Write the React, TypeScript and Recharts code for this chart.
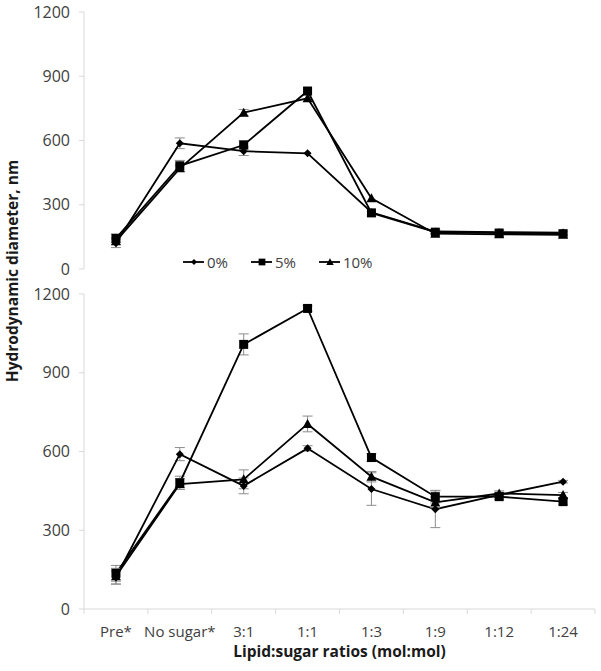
import React from 'react'
import { LineChart, Line, XAxis, YAxis, ErrorBar } from 'recharts'

// x categories (lipid:sugar ratio)
const categories = ['Pre*', 'No sugar*', '3:1', '1:1', '1:3', '1:9', '1:12', '1:24']
const seriesNames = ['0%', '5%', '10%']
const yTicks = [0, 300, 600, 900, 1200]

// top panel
const top0 = [120, 587, 550, 540, 265, 175, 172, 170]
const top5 = [143, 482, 579, 831, 262, 172, 168, 165]
const top10 = [130, 470, 730, 797, 330, 165, 162, 160]
const top0Err = [20, 25, 20, 0, 0, 8, 8, 8]
const top5Err = [20, 25, 20, 0, 0, 8, 8, 8]
const top10Err = [15, 15, 15, 0, 0, 0, 0, 0]

// bottom panel
const bot0 = [120, 590, 469, 612, 457, 380, 435, 485]
const bot5 = [136, 481, 1008, 1145, 577, 428, 428, 409]
const bot10 = [125, 476, 494, 705, 504, 406, 440, 434]
const bot0Err = [25, 25, 30, 10, 62, 70, 10, 5]
const bot5Err = [30, 25, 40, 10, 15, 24, 10, 10]
const bot10Err = [30, 20, 36, 30, 20, 20, 10, 10]

const FONT = '"Open Sans", sans-serif'
const AXIS = '#d9d9d9'
const TEXT = '#404040'

const buildRows = (s0: number[], s5: number[], s10: number[], e0: number[], e5: number[], e10: number[]) =>
  categories.map((name, i) => ({
    name,
    pos: i + 0.5,
    s0: s0[i], s5: s5[i], s10: s10[i],
    e0: e0[i], e5: e5[i], e10: e10[i],
  }))

const topRows = buildRows(top0, top5, top10, top0Err, top5Err, top10Err)
const botRows = buildRows(bot0, bot5, bot10, bot0Err, bot5Err, bot10Err)

// tick marks sit on band edges, labels on band centres
const xTicks = categories.flatMap((_, i) => [i, i + 0.5]).concat(categories.length)

type Kind = 'diamond' | 'square' | 'triangle'
const kinds: Kind[] = ['diamond', 'square', 'triangle']

function Marker({ kind, cx, cy, s = 1 }: { kind: Kind; cx: number; cy: number; s?: number }) {
  if (kind === 'diamond') {
    const r = 4 * s
    return <polygon points={`${cx},${cy - r} ${cx + r},${cy} ${cx},${cy + r} ${cx - r},${cy}`} fill="#000" />
  }
  if (kind === 'square') {
    const r = 4.5 * s
    return <rect x={cx - r} y={cy - r} width={2 * r} height={2 * r} fill="#000" />
  }
  const r = 5 * s
  return <polygon points={`${cx},${cy - r} ${cx + r},${cy + r * 0.8} ${cx - r},${cy + r * 0.8}`} fill="#000" />
}

const dotFor = (kind: Kind) => (p: any) =>
  <Marker key={`${kind}-${p.index}`} kind={kind} cx={p.cx} cy={p.cy} />

const XTick = ({ x, y, payload }: any) => {
  const v = payload.value
  if (Number.isInteger(v)) return <line x1={x} x2={x} y1={y} y2={y + 5} stroke={AXIS} />
  return (
    <text x={x} y={y + 28} textAnchor="middle" fontSize={15} fill={TEXT} fontFamily={FONT}>
      {categories[Math.floor(v)]}
    </text>
  )
}

const YLabel = () => (
  <text
    x={18}
    y={271}
    transform="rotate(-90 18 271)"
    textAnchor="middle"
    fontSize={15.5}
    fontWeight={700}
    fill="#1a1a1a"
    fontFamily={FONT}
  >
    Hydrodynamic diameter, nm
  </text>
)

function renderLines() {
  const keys = ['s0', 's5', 's10']
  const errs = ['e0', 'e5', 'e10']
  return keys.map((k, i) => (
    <Line
      key={k}
      dataKey={k}
      name={seriesNames[i]}
      stroke="#000"
      strokeWidth={1.8}
      dot={dotFor(kinds[i])}
      activeDot={false}
      isAnimationActive={false}
    >
      <ErrorBar dataKey={errs[i]} direction="y" width={5} stroke="#8c8c8c" strokeWidth={1} />
    </Line>
  ))
}

function yAxis(label?: boolean) {
  return (
    <YAxis
      type="number"
      domain={[0, 1200]}
      ticks={yTicks}
      width={84}
      tickSize={5}
      tickMargin={9}
      axisLine={{ stroke: AXIS }}
      tickLine={{ stroke: AXIS }}
      tick={{ fontSize: 16, fill: TEXT, fontFamily: FONT }}
      label={label ? <YLabel /> : undefined}
    />
  )
}

function Legend() {
  return (
    <div
      style={{
        position: 'absolute', left: 183, top: 252, display: 'flex', gap: 23,
        fontFamily: FONT, fontSize: 15, color: TEXT, lineHeight: '20px',
      }}
    >
      {seriesNames.map((n, i) => (
        <div key={n} style={{ display: 'flex', alignItems: 'center' }}>
          <svg width={22} height={20}>
            <line x1={0} x2={21} y1={10} y2={10} stroke="#000" strokeWidth={1.8} />
            <Marker kind={kinds[i]} cx={11} cy={10} s={0.75} />
          </svg>
          <span style={{ marginLeft: 2 }}>{n}</span>
        </div>
      ))}
    </div>
  )
}

export default function App() {
  return (
    <div style={{ position: 'absolute', left: 0, top: 0, width: 601, height: 671, background: '#fff' }}>
      <div style={{ position: 'absolute', left: 0, top: 0 }}>
        <LineChart width={601} height={400} data={topRows} margin={{ top: 12, right: 6, bottom: 131, left: 0 }}>
          <XAxis type="number" dataKey="pos" domain={[0, categories.length]} hide />
          {yAxis(true)}
          {renderLines()}
        </LineChart>
      </div>
      <div style={{ position: 'absolute', left: 0, top: 280 }}>
        <LineChart width={601} height={391} data={botRows} margin={{ top: 14, right: 6, bottom: 8, left: 0 }}>
          <XAxis
            type="number"
            dataKey="pos"
            domain={[0, categories.length]}
            ticks={xTicks}
            interval={0}
            height={54}
            tickSize={0}
            tickMargin={0}
            tickLine={false}
            axisLine={{ stroke: AXIS }}
            tick={<XTick />}
            label={{
              value: 'Lipid:sugar ratios (mol:mol)',
              position: 'insideBottom',
              offset: 6,
              fontSize: 15.5,
              fontWeight: 700,
              fill: '#1a1a1a',
              fontFamily: FONT,
            }}
          />
          {yAxis(false)}
          {renderLines()}
        </LineChart>
      </div>
      <Legend />
    </div>
  )
}
